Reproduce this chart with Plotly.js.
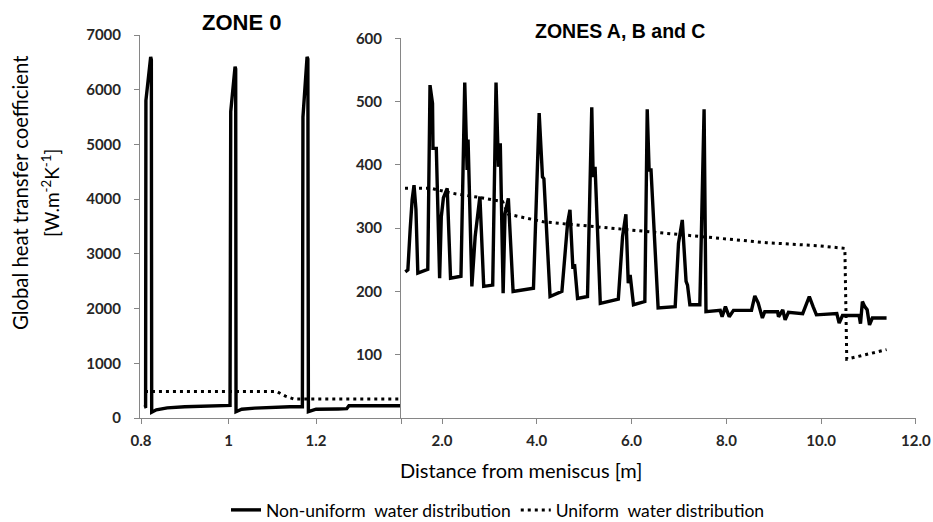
<!DOCTYPE html>
<html>
<head>
<meta charset="utf-8">
<script src="https://cdn.plot.ly/plotly-3.0.1.min.js"></script>
<style>
html,body{margin:0;padding:0;background:#fff;}
#chart{width:933px;height:522px;}
</style>
</head>
<body>
<div id="chart"></div>
<script>
// ZONE 0 (left panel)
var zone0X = [0.8069, 0.8105, 0.8112, 0.8221, 0.8236, 0.8244, 0.835, 0.86, 0.90, 0.96, 1.0025, 1.0034, 1.005, 1.0149, 1.0163, 1.0171, 1.03, 1.06, 1.10, 1.14, 1.1687, 1.170, 1.1794, 1.1812, 1.1824, 1.20, 1.25, 1.27, 1.275, 1.33, 1.394];
var zone0NonUniform = [200, 210, 5800, 6600, 6550, 105, 150, 185, 205, 215, 230, 230, 5600, 6420, 6380, 115, 160, 180, 195, 205, 205, 5500, 6600, 6560, 115, 160, 165, 170, 225, 225, 225];
var zone0UniX = [0.809, 1.110, 1.130, 1.150, 1.394];
var zone0Uniform = [485, 485, 400, 345, 345];

// ZONES A, B and C (right panel)
var zoneAX = [1.226, 1.28, 1.33, 1.37, 1.41, 1.45, 1.49, 1.70, 1.747, 1.80, 1.81, 1.88, 1.95, 1.985, 2.03, 2.11, 2.18, 2.40, 2.48, 2.52, 2.53, 2.55, 2.63, 2.70, 2.80, 2.88, 3.07, 3.14, 3.18, 3.19, 3.23, 3.29, 3.33, 3.40, 3.50, 3.68, 3.93, 4.05, 4.12, 4.15, 4.28, 4.53, 4.65, 4.70, 4.76, 4.80, 4.86, 5.07, 5.16, 5.19, 5.23, 5.34, 5.48, 5.72, 5.81, 5.88, 5.93, 5.97, 6.04, 6.28, 6.33, 6.37, 6.41, 6.56, 6.92, 6.99, 7.07, 7.15, 7.18, 7.23, 7.44, 7.53, 7.57, 7.87, 7.91, 7.98, 8.06, 8.15, 8.53, 8.60, 8.67, 8.76, 8.81, 9.08, 9.10, 9.19, 9.24, 9.31, 9.61, 9.75, 9.83, 9.90, 10.33, 10.38, 10.45, 10.80, 10.83, 10.87, 10.92, 10.97, 11.02, 11.08, 11.38];
var zoneANonUniform = [231, 234, 300, 345, 368, 330, 229, 235, 526, 497, 426, 426, 221, 318, 348, 363, 221, 224, 530, 442, 392, 440, 208, 287, 350, 208, 210, 530, 434, 397, 434, 197, 323, 347, 200, 202, 205, 482, 381, 378, 192, 200, 308, 329, 239, 240, 189, 192, 491, 381, 397, 181, 184, 188, 287, 322, 213, 226, 179, 184, 488, 392, 392, 174, 176, 276, 313, 216, 210, 179, 179, 488, 168, 170, 160, 176, 160, 170, 170, 193, 182, 158, 168, 168, 160, 171, 155, 167, 165, 192, 176, 163, 165, 150, 162, 162, 149, 184, 176, 171, 147, 158, 158];
var zoneAUniX = [1.22, 1.77, 2.05, 2.30, 2.75, 3.28, 3.32, 3.40, 4.14, 4.84, 5.54, 6.14, 7.37, 8.85, 9.98, 10.50, 10.54, 11.38];
var zoneAUniform = [363, 363, 358, 354, 349, 342, 335, 322, 310, 305, 301, 296, 287, 277, 272, 268, 93, 108];

var leftXTicks = [0.8, 1, 1.2, 1.394];
var leftXLabels = ['0.8', '1', '1.2', ' '];
var leftYTicks = [0, 1000, 2000, 3000, 4000, 5000, 6000, 7000];
var rightXTicks = [2, 4, 6, 8, 10, 12];
var rightXLabels = ['2.0', '4.0', '6.0', '8.0', '10.0', '12.0'];
var rightYTicks = [100, 200, 300, 400, 500, 600];

var seriesNames = ['Non-uniform  water distribution', 'Uniform  water distribution'];

var W = 933, H = 522;
function px(x){ return x / W; }
function py(y){ return 1 - y / H; }

var solid = {color: '#000', width: 3.4};
var dotted = {color: '#000', width: 3, dash: '3px,4px'};

var traces = [
  {x: zone0X, y: zone0NonUniform, xaxis: 'x', yaxis: 'y', mode: 'lines', line: solid, name: seriesNames[0], showlegend: true},
  {x: zone0UniX, y: zone0Uniform, xaxis: 'x', yaxis: 'y', mode: 'lines', line: dotted, name: seriesNames[1], showlegend: true},
  {x: zoneAX, y: zoneANonUniform, xaxis: 'x2', yaxis: 'y2', mode: 'lines', line: solid, name: seriesNames[0], showlegend: false},
  {x: zoneAUniX, y: zoneAUniform, xaxis: 'x2', yaxis: 'y2', mode: 'lines', line: dotted, name: seriesNames[1], showlegend: false}
];

var tickFont = {family: 'Lato', size: 15, color: '#262626', weight: 'bold'};
var axCommon = {
  showgrid: false, zeroline: false, showline: true, linecolor: '#868686', linewidth: 1,
  ticks: 'outside', ticklen: 5, tickcolor: '#868686', tickwidth: 1, tickfont: tickFont, fixedrange: true
};

var layout = {
  width: W, height: H,
  margin: {l: 0, r: 0, t: 0, b: 0, autoexpand: false},
  paper_bgcolor: '#fff', plot_bgcolor: '#fff',
  showlegend: true,
  legend: {
    orientation: 'h', x: px(498), xanchor: 'center', y: py(510), yanchor: 'middle',
    font: {family: 'Lato', size: 17.5, color: '#000'}, bgcolor: 'rgba(0,0,0,0)',
    borderwidth: 0, tracegroupgap: 0
  },
  xaxis: Object.assign({}, axCommon, {
    domain: [px(140), px(401)], range: [0.7977, 1.394], anchor: 'y',
    tickmode: 'array', tickvals: leftXTicks, ticktext: leftXLabels, ticklabelstandoff: 4
  }),
  yaxis: Object.assign({}, axCommon, {
    domain: [py(418), py(35)], range: [0, 7000], anchor: 'x',
    tickmode: 'array', tickvals: leftYTicks, ticklabelstandoff: 10
  }),
  xaxis2: Object.assign({}, axCommon, {
    domain: [px(401), px(916)], range: [1.135, 12.001], anchor: 'y2',
    tickmode: 'array', tickvals: rightXTicks, ticktext: rightXLabels, ticklabelstandoff: 4
  }),
  yaxis2: Object.assign({}, axCommon, {
    domain: [py(418), py(38.3)], range: [0, 600], anchor: 'x2',
    tickmode: 'array', tickvals: rightYTicks, ticklabelstandoff: 10
  }),
  annotations: [
    {text: 'ZONE 0', x: px(241), y: py(22), xref: 'paper', yref: 'paper', showarrow: false,
     xanchor: 'center', yanchor: 'middle', font: {family: 'Liberation Sans', size: 22, color: '#000', weight: 'bold'}},
    {text: 'ZONES A, B and C', x: px(620), y: py(31), xref: 'paper', yref: 'paper', showarrow: false,
     xanchor: 'center', yanchor: 'middle', font: {family: 'Liberation Sans', size: 19.5, color: '#000', weight: 'bold'}},
    {text: 'Global heat transfer coefficient', x: px(20), y: py(193), xref: 'paper', yref: 'paper', showarrow: false,
     textangle: -90, xanchor: 'center', yanchor: 'middle', font: {family: 'Lato', size: 20.3, color: '#000'}},
    {text: '[W.m<sup>-2</sup>K<sup>-1</sup>]', x: px(50), y: py(193), xref: 'paper', yref: 'paper', showarrow: false,
     textangle: -90, xanchor: 'center', yanchor: 'middle', font: {family: 'Lato', size: 19, color: '#000'}},
    {text: 'Distance from meniscus [m]', x: px(521), y: py(470), xref: 'paper', yref: 'paper', showarrow: false,
     xanchor: 'center', yanchor: 'middle', font: {family: 'Lato', size: 20, color: '#000'}}
  ]
};

Plotly.newPlot('chart', traces, layout, {staticPlot: true, displayModeBar: false});
</script>
</body>
</html>
